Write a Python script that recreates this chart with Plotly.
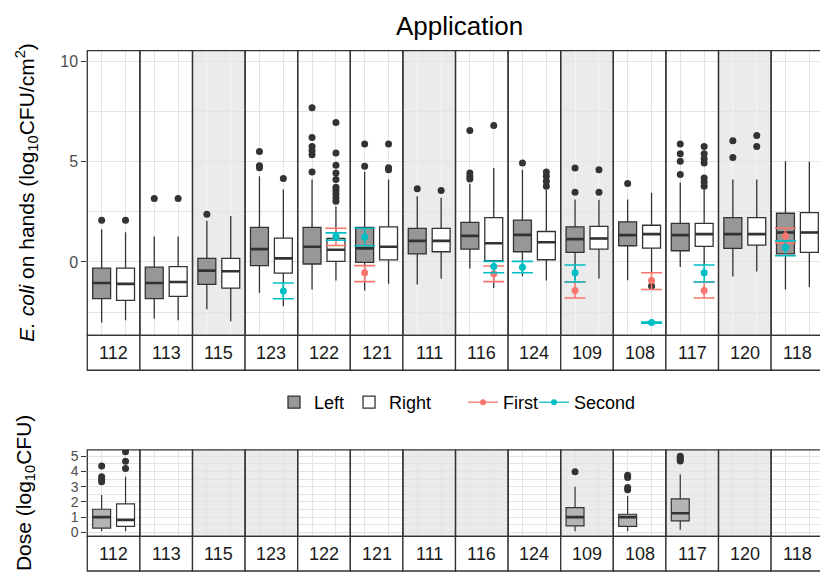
import plotly.graph_objects as go

# ---------------- data ----------------
panels = ["112", "113", "115", "123", "122", "121", "111", "116", "124", "109", "108", "117", "120", "118"]

# Top: E. coli on hands, Left hand boxes
left_lo  = [-3.02, -2.82, -2.36, -1.55, -1.37, -1.42, -1.12, -0.33, -0.71, -0.89, -0.91, -0.25, -0.73, -1.37]
left_q1  = [-1.83, -1.83, -1.12, -0.18, -0.10, -0.02, 0.40, 0.64, 0.51, 0.48, 0.81, 0.56, 0.68, 0.40]
left_med = [-1.05, -1.05, -0.43, 0.64, 0.76, 0.68, 1.05, 1.30, 1.35, 1.14, 1.34, 1.34, 1.39, 1.47]
left_q3  = [-0.31, -0.26, 0.18, 1.72, 1.72, 1.72, 1.68, 1.97, 2.09, 1.75, 2.00, 1.92, 2.21, 2.43]
left_hi  = [1.63, 1.27, 2.05, 4.27, 4.11, 4.50, 3.28, 3.90, 4.60, 3.12, 3.12, 3.96, 4.11, 5.02]
left_out = [[2.08], [3.17], [2.38], [4.70, 4.80, 5.51], [4.49, 5.35, 5.55, 5.76, 6.20, 7.69],
            [4.77, 5.88], [3.65], [4.14, 4.27, 4.44, 6.55], [4.93], [3.48, 4.69], [3.91],
            [4.36, 5.02, 5.40, 5.88], [5.21, 6.05], []]

# Top: Right hand boxes
right_lo  = [-2.90, -2.90, -2.95, -2.21, -0.93, -1.09, -0.84, -1.30, -0.93, -0.84, -0.50, -0.20, -0.48, -1.25]
right_q1  = [-1.91, -1.72, -1.30, -0.56, 0.03, 0.10, 0.51, 0.06, 0.11, 0.64, 0.69, 0.78, 0.84, 0.48]
right_med = [-1.09, -1.00, -0.46, 0.18, 0.61, 0.76, 1.05, 0.93, 0.98, 1.17, 1.39, 1.39, 1.39, 1.47]
right_q3  = [-0.31, -0.23, 0.18, 1.19, 1.17, 1.75, 1.68, 2.21, 1.52, 1.77, 1.83, 1.92, 2.21, 2.46]
right_hi  = [1.48, 1.27, 2.29, 3.61, 2.76, 4.11, 3.20, 4.69, 3.60, 3.10, 3.45, 3.60, 4.11, 5.00]
right_out = [[2.08], [3.17], [], [4.16],
             [3.03, 3.20, 3.40, 3.57, 3.73, 4.11, 4.44, 4.82, 5.43, 6.95],
             [4.60, 4.70, 5.88], [3.56], [6.80], [3.78, 4.03, 4.27, 4.49], [3.48, 4.60], [-1.20],
             [3.78, 3.98, 4.19, 4.93, 5.15, 5.40, 5.76], [5.76, 6.30], []]

# Mean +/- interval for First and Second (panel, hand, mean, low, high)
first_panel = ["122", "121", "116", "109", "108", "117", "118"]
first_hand  = ["Right", "Left", "Right", "Left", "Right", "Right", "Left"]
first_mean  = [1.24, -0.54, -0.59, -1.42, -0.93, -1.42, 1.30]
first_low   = [0.82, -0.98, -0.98, -1.80, -1.37, -1.80, 0.95]
first_high  = [1.68, -0.18, -0.20, -1.00, -0.54, -1.00, 1.68]

second_panel = ["123", "122", "121", "116", "124", "109", "108", "117", "118"]
second_hand  = ["Right", "Right", "Left", "Right", "Left", "Left", "Right", "Right", "Left"]
second_mean  = [-1.45, 1.27, 1.25, -0.23, -0.26, -0.54, -3.02, -0.54, 0.72]
second_low   = [-1.83, 1.08, 0.81, -0.54, -0.54, -1.00, -3.05, -1.00, 0.31]
second_high  = [-1.05, 1.45, 1.68, 0.03, 0.03, -0.15, -2.99, -0.15, 1.05]

# Bottom: Dose (log10 CFU)
dose_panel = ["112", "112", "109", "108", "117"]
dose_hand  = ["Left", "Right", "Left", "Left", "Left"]
dose_lo    = [0.07, 0.07, 0.07, 0.07, 0.17]
dose_q1    = [0.28, 0.39, 0.43, 0.39, 0.76]
dose_med   = [1.00, 0.82, 1.00, 1.00, 1.26]
dose_q3    = [1.52, 1.87, 1.63, 1.19, 2.20]
dose_hi    = [2.46, 3.65, 3.00, 2.39, 3.80]
dose_out   = [[3.33, 3.48, 3.65, 4.37], [4.20, 4.68, 5.30], [3.98], [2.80, 2.95, 3.60, 3.75],
              [4.70, 4.80, 4.90, 5.00]]

shaded_top = ["115", "111", "109", "120"]
shaded_bottom = ["115", "123", "122", "111", "116", "109", "117", "120"]

hands = ["Left", "Right"]
top_yticks = [0, 5, 10]
top_yminor = [-2.5, 2.5, 7.5]
bot_yticks = [0, 1, 2, 3, 4, 5]
bot_yminor = [0.5, 1.5, 2.5, 3.5, 4.5]

# ---------------- layout geometry ----------------
W, H = 820, 577
PX0, PW = 87.3, 52.6
TOP = (50.0, 337.3)
TOP_STRIP = (337.3, 372.5)
BOT = (452.7, 540.0)
BOT_STRIP = (540.0, 575.0)
BOXW = 0.75

def fx(px):
    return px / W

def fy(py):
    return 1 - py / H

FONT = "Liberation Sans, Arial, sans-serif"
LEFT_FILL = "#979797"
DOSE_FILL = "#b4b4b4"
LINE = "#333333"
RED = "#F8766D"
TEAL = "#00BFC4"
GRID = "#e4e4e4"
SHADE = "#ebebeb"
SHADE_GRID = "#f6f6f6"

n = len(panels)
pos = {h: i + 1 for i, h in enumerate(hands)}
top_ax = {p: ("x" if i == 0 else f"x{i+1}") for i, p in enumerate(panels)}
bot_ax = {p: f"x{n+i+1}" for i, p in enumerate(panels)}

fig = go.Figure()
layout = {}
shapes = []
annotations = []

for i, p in enumerate(panels):
    x0 = PX0 + i * PW
    x1 = x0 + PW
    vis1 = min(x1, W)
    rng = [0.4, 0.4 + 2.2 * (vis1 - x0) / PW]
    for row, axmap, yname in ((0, top_ax, "y"), (1, bot_ax, "y2")):
        name = axmap[p]
        key = "xaxis" if name == "x" else "xaxis" + name[1:]
        shaded = shaded_top if row == 0 else shaded_bottom
        layout[key] = dict(domain=[fx(x0), fx(vis1)], anchor=yname, range=rng,
                           tickvals=[1, 2], showticklabels=False, ticks="",
                           showgrid=True, gridcolor=(SHADE_GRID if (row == 0 and p in shaded) else GRID),
                           gridwidth=1, zeroline=False, showline=False, fixedrange=True)
        # make sure every panel exists as a subplot
        fig.add_trace(go.Scatter(x=[None], y=[None], xaxis=name, yaxis=yname,
                                 showlegend=False, hoverinfo="skip"))
        ylo, yhi = (TOP if row == 0 else BOT)
        if p in shaded:
            shapes.append(dict(type="rect", xref=f"{name} domain", yref=f"{yname} domain",
                               x0=0, x1=1, y0=0, y1=1, fillcolor=SHADE,
                               line=dict(width=0), layer="below"))
        # panel border
        shapes.append(dict(type="rect", xref="paper", yref="paper",
                           x0=fx(x0), x1=fx(x1), y0=fy(yhi), y1=fy(ylo),
                           line=dict(color=LINE, width=1.3), layer="above"))
        # strip
        s0, s1 = (TOP_STRIP if row == 0 else BOT_STRIP)
        shapes.append(dict(type="rect", xref="paper", yref="paper",
                           x0=fx(x0), x1=fx(x1), y0=fy(s1), y1=fy(s0),
                           fillcolor="white", line=dict(color=LINE, width=1.3), layer="above"))
        annotations.append(dict(text=p, xref="paper", yref="paper",
                                x=fx((x0 + x1) / 2), y=fy((s0 + s1) / 2),
                                showarrow=False, xanchor="center", yanchor="middle",
                                font=dict(size=18, color="#1a1a1a", family=FONT)))

layout["yaxis"] = dict(domain=[fy(TOP[1]), fy(TOP[0])], anchor="x", range=[-3.66, 10.54],
                       tickvals=top_yticks, ticks="outside", ticklen=5, tickwidth=1.2,
                       tickcolor=LINE, tickfont=dict(size=16, color="#4d4d4d", family=FONT),
                       showgrid=True, gridcolor=GRID, gridwidth=1, zeroline=False,
                       minor=dict(tickvals=top_yminor, showgrid=True, gridcolor=GRID, gridwidth=0.8, ticks=""),
                       showline=False, fixedrange=True)
layout["yaxis2"] = dict(domain=[fy(BOT[1]), fy(BOT[0])], anchor=f"x{n+1}", range=[-0.26, 5.43],
                        tickvals=bot_yticks, ticks="outside", ticklen=5, tickwidth=1.2,
                        tickcolor=LINE, tickfont=dict(size=14, color="#4d4d4d", family=FONT),
                        showgrid=True, gridcolor=GRID, gridwidth=1, zeroline=False,
                        minor=dict(tickvals=bot_yminor, showgrid=True, gridcolor=GRID, gridwidth=0.8, ticks=""),
                        showline=False, fixedrange=True)


def add_box(xname, yname, x, lo, q1, med, q3, hi, out, fill, lw, legend_name=None, legend_id="legend"):
    fig.add_trace(go.Box(x=[x], lowerfence=[lo], q1=[q1], median=[med], q3=[q3], upperfence=[hi],
                         xaxis=xname, yaxis=yname, width=BOXW, whiskerwidth=0,
                         fillcolor=fill, line=dict(color=LINE, width=lw),
                         boxpoints=False, hoverinfo="skip",
                         name=legend_name or "", showlegend=legend_name is not None,
                         legend=legend_id))
    # thicker median bar (as in ggplot)
    fig.add_trace(go.Scatter(x=[x - BOXW / 2, x + BOXW / 2], y=[med, med], mode="lines",
                             line=dict(color=LINE, width=2.6), xaxis=xname, yaxis=yname,
                             showlegend=False, hoverinfo="skip"))
    if out:
        fig.add_trace(go.Scatter(x=[x] * len(out), y=out, mode="markers",
                                 marker=dict(color=LINE, size=7), xaxis=xname, yaxis=yname,
                                 showlegend=False, hoverinfo="skip"))


legend_done = set()
for i, p in enumerate(panels):
    xname = top_ax[p]
    lname = "Left" if "Left" not in legend_done else None
    legend_done.add("Left")
    add_box(xname, "y", pos["Left"], left_lo[i], left_q1[i], left_med[i], left_q3[i], left_hi[i],
            left_out[i], LEFT_FILL, 1.3, lname)
    rname = "Right" if "Right" not in legend_done else None
    legend_done.add("Right")
    add_box(xname, "y", pos["Right"], right_lo[i], right_q1[i], right_med[i], right_q3[i], right_hi[i],
            right_out[i], "white", 1.3, rname)

for j, p in enumerate(dose_panel):
    fill = DOSE_FILL if dose_hand[j] == "Left" else "white"
    add_box(bot_ax[p], "y2", pos[dose_hand[j]], dose_lo[j], dose_q1[j], dose_med[j], dose_q3[j],
            dose_hi[j], dose_out[j], fill, 1.2)


def add_err(plist, hlist, means, lows, highs, color):
    for p, h, m, lo, hi in zip(plist, hlist, means, lows, highs):
        fig.add_trace(go.Scatter(x=[pos[h]], y=[m], mode="markers", xaxis=top_ax[p], yaxis="y",
                                 marker=dict(color=color, size=7),
                                 error_y=dict(type="data", symmetric=False, array=[hi - m],
                                              arrayminus=[m - lo], color=color, thickness=1.6, width=10.5),
                                 showlegend=False, hoverinfo="skip"))


add_err(first_panel, first_hand, first_mean, first_low, first_high, RED)
add_err(second_panel, second_hand, second_mean, second_low, second_high, TEAL)

for nm, col, lg in (("First", RED, "legend2"), ("Second", TEAL, "legend3")):
    fig.add_trace(go.Scatter(x=[None], y=[None], mode="lines+markers", name=nm,
                             line=dict(color=col, width=1.3), marker=dict(color=col, size=6),
                             xaxis="x", yaxis="y", legend=lg, showlegend=True))

# titles
annotations.append(dict(text="Application", xref="paper", yref="paper", x=fx(459), y=fy(25),
                        showarrow=False, xanchor="center", yanchor="middle",
                        font=dict(size=26, color="black", family=FONT)))
annotations.append(dict(text="<i>E. coli</i> on hands (log<sub>10</sub>CFU/cm<sup>2</sup>)",
                        xref="paper", yref="paper", x=fx(27), y=fy((TOP[0] + TOP[1]) / 2),
                        textangle=-90, showarrow=False, xanchor="center", yanchor="middle",
                        font=dict(size=21, color="black", family=FONT)))
annotations.append(dict(text="Dose (log<sub>10</sub>CFU)",
                        xref="paper", yref="paper", x=fx(25), y=fy((BOT[0] + BOT[1]) / 2),
                        textangle=-90, showarrow=False, xanchor="center", yanchor="middle",
                        font=dict(size=21, color="black", family=FONT)))

leg_common = dict(orientation="h", xanchor="left", yanchor="middle",
                  font=dict(size=18, family=FONT, color="black"), bgcolor="rgba(0,0,0,0)",
                  itemwidth=30, traceorder="normal")

fig.update_layout(
    **layout,
    width=W, height=H, margin=dict(l=0, r=0, t=0, b=0),
    paper_bgcolor="white", plot_bgcolor="white",
    boxmode="overlay",
    shapes=shapes, annotations=annotations,
    font=dict(family=FONT, color="black"),
    legend=dict(x=fx(274), y=fy(405), **leg_common),
    legend2=dict(x=fx(463), y=fy(405), **leg_common),
    legend3=dict(x=fx(534), y=fy(405), **leg_common),
)

fig.write_html("out.html")
